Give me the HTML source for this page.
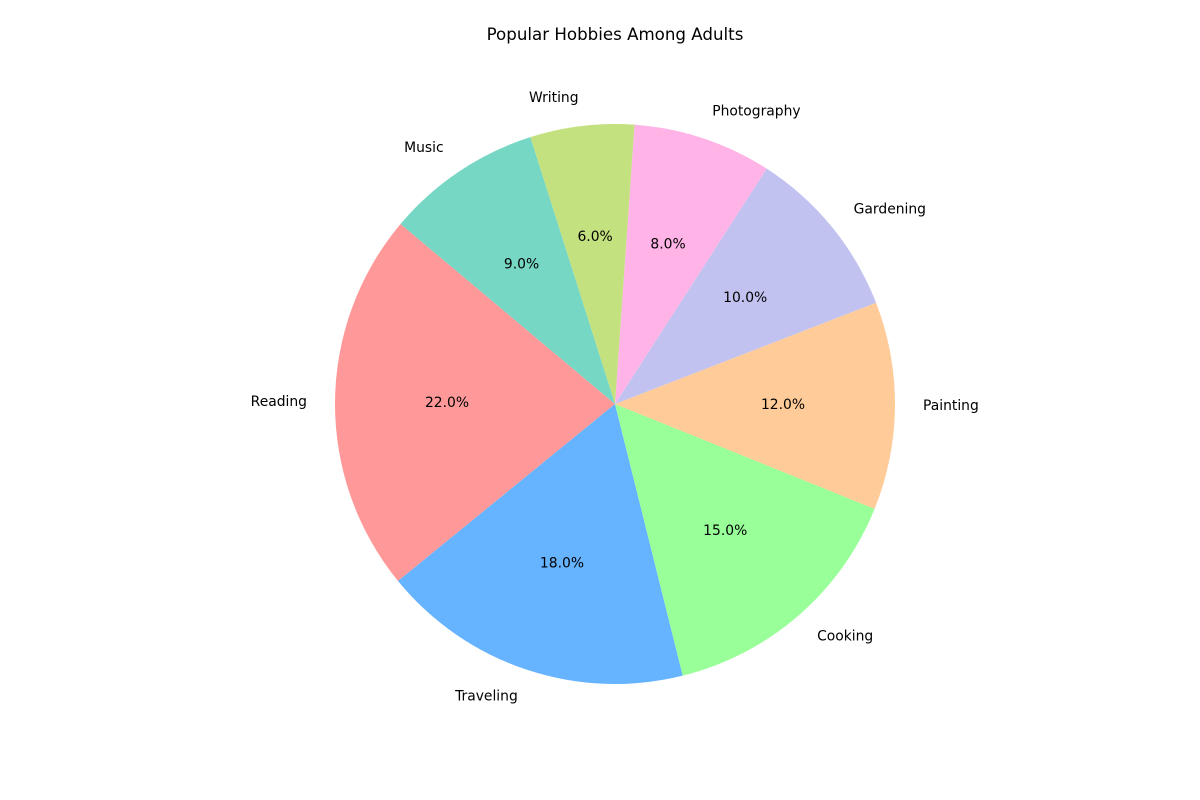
<!DOCTYPE html>
<html>
<head>
<meta charset="utf-8">
<title>Popular Hobbies Among Adults</title>
<style>
html,body{margin:0;padding:0;background:#fff;}
svg{display:block;}
text{font-family:"DejaVu Sans","Liberation Sans",sans-serif;fill:#000;}
</style>
</head>
<body>
<svg id="chart" width="1200" height="800" viewBox="0 0 1200 800" xmlns="http://www.w3.org/2000/svg">
<rect x="0" y="0" width="1200" height="800" fill="#ffffff"/>
<text x="615" y="40" text-anchor="middle" font-size="16.67px">Popular Hobbies Among Adults</text>
</svg>
<script>
var categories = ['Reading', 'Traveling', 'Cooking', 'Painting', 'Gardening', 'Photography', 'Writing', 'Music'];
var shares = [22, 18, 15, 12, 10, 8, 6, 9];
var sliceColors = ['#ff9999', '#66b3ff', '#99ff99', '#ffcc99', '#c2c2f0', '#ffb3e6', '#c4e17f', '#76d7c4'];
var startAngle = 140;

var svg = document.getElementById('chart');
var NS = 'http://www.w3.org/2000/svg';
var cx = 615, cy = 404, radius = 280;
var total = shares.reduce(function (a, b) { return a + b; }, 0);

function px(angle, r) { return cx + r * Math.cos(angle * Math.PI / 180); }
function py(angle, r) { return cy - r * Math.sin(angle * Math.PI / 180); }
function slug(s) { return s.toLowerCase().replace(/[^a-z0-9]+/g, '-'); }

var angle = startAngle;
shares.forEach(function (value, i) {
  var sweep = value / total * 360;
  var end = angle + sweep;

  var path = document.createElementNS(NS, 'path');
  path.setAttribute('d', 'M' + cx + ' ' + cy +
    ' L' + px(angle, radius) + ' ' + py(angle, radius) +
    ' A' + radius + ' ' + radius + ' 0 ' + (sweep > 180 ? 1 : 0) + ' 0 ' + px(end, radius) + ' ' + py(end, radius) + ' Z');
  path.setAttribute('fill', sliceColors[i]);
  
  
  svg.appendChild(path);

  angle = end;
});

angle = startAngle;
shares.forEach(function (value, i) {
  var sweep = value / total * 360;
  var mid = angle + sweep / 2;

  var lx = px(mid, radius * 1.1);
  var label = document.createElementNS(NS, 'text');
  label.setAttribute('x', lx);
  label.setAttribute('y', py(mid, radius * 1.1) + 4);
  label.setAttribute('text-anchor', lx > cx ? 'start' : 'end');
  label.setAttribute('font-size', '13.89px');
  label.textContent = categories[i];
  
  
  svg.appendChild(label);

  var pct = document.createElementNS(NS, 'text');
  pct.setAttribute('x', px(mid, radius * 0.6));
  pct.setAttribute('y', py(mid, radius * 0.6) + 4);
  pct.setAttribute('text-anchor', 'middle');
  pct.setAttribute('font-size', '13.89px');
  pct.textContent = (value / total * 100).toFixed(1) + '%';
  
  
  svg.appendChild(pct);

  angle += sweep;
});
</script>
</body>
</html>
